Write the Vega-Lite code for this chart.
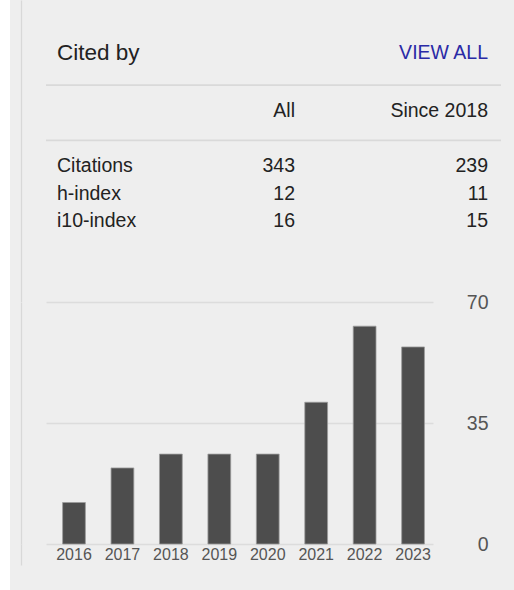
{
  "$schema": "https://vega.github.io/schema/vega-lite/v6.json",
  "background": "#eeeeee",
  "padding": {"left": 0, "top": 0, "right": 13, "bottom": 0},
  "autosize": {"type": "pad"},
  "bounds": "flush",
  "spacing": 36,
  "config": {
    "font": "Liberation Sans",
    "view": {"stroke": null},
    "concat": {"spacing": 0}
  },
  "hconcat": [
    {
      "width": 10,
      "height": 590,
      "view": {"fill": "#ffffff", "stroke": null},
      "data": {"values": []},
      "mark": "point"
    },
    {
      "vconcat": [
        {
          "width": 455,
          "height": 301.5,
          "data": {
            "values": [
              {"row": "hdr", "col": "label", "text": "Cited by"},
              {"row": "hdr", "col": "since", "text": "VIEW ALL"},
              {"row": "cols", "col": "all", "text": "All"},
              {"row": "cols", "col": "since", "text": "Since 2018"},
              {"row": "Citations", "col": "label", "text": "Citations"},
              {"row": "Citations", "col": "all", "text": "343"},
              {"row": "Citations", "col": "since", "text": "239"},
              {"row": "h-index", "col": "label", "text": "h-index"},
              {"row": "h-index", "col": "all", "text": "12"},
              {"row": "h-index", "col": "since", "text": "11"},
              {"row": "i10-index", "col": "label", "text": "i10-index"},
              {"row": "i10-index", "col": "all", "text": "16"},
              {"row": "i10-index", "col": "since", "text": "15"}
            ]
          },
          "encoding": {
            "y": {
              "field": "row",
              "type": "nominal",
              "scale": {
                "type": "point",
                "domain": ["top1", "top2", "hdr", "sep1", "cols", "sep2", "Citations", "h-index", "i10-index", "gap1", "gap2"],
                "padding": 0.456,
                "align": 0.0095
              },
              "axis": {
                "labels": false,
                "ticks": false,
                "title": null,
                "grid": false,
                "domain": true,
                "domainColor": "#d8d8d8",
                "domainWidth": 1.2,
                "offset": 25
              }
            }
          },
          "layer": [
            {
              "data": {"values": [{"row": "sep1"}, {"row": "sep2"}]},
              "mark": {"type": "rule", "color": "#d9d9d9", "strokeWidth": 1.8, "yOffset": 2},
              "encoding": {}
            },
            {
              "transform": [{"filter": "datum.col === 'label' && datum.row !== 'hdr'"}],
              "mark": {"type": "text", "align": "left", "baseline": "middle", "fontSize": 19.5, "color": "#222222"},
              "encoding": {
                "x": {"field": "col", "type": "nominal", "scale": {"type": "point", "domain": ["label", "all", "since"], "padding": 0.0557, "align": 0.4583}, "axis": null},
                "text": {"field": "text"}
              }
            },
            {
              "transform": [{"filter": "datum.col === 'label' && datum.row === 'hdr'"}],
              "mark": {"type": "text", "align": "left", "baseline": "middle", "fontSize": 22.5, "color": "#222222", "dy": -2},
              "encoding": {
                "x": {"field": "col", "type": "nominal", "axis": null},
                "text": {"field": "text"}
              }
            },
            {
              "transform": [{"filter": "datum.col === 'all'"}],
              "mark": {"type": "text", "align": "right", "baseline": "middle", "fontSize": 19.5, "color": "#222222", "dx": 22.5},
              "encoding": {
                "x": {"field": "col", "type": "nominal", "axis": null},
                "text": {"field": "text"}
              }
            },
            {
              "transform": [{"filter": "datum.col === 'since' && datum.row !== 'hdr'"}],
              "mark": {"type": "text", "align": "right", "baseline": "middle", "fontSize": 19.5, "color": "#222222"},
              "encoding": {
                "x": {"field": "col", "type": "nominal", "axis": null},
                "text": {"field": "text"}
              }
            },
            {
              "transform": [{"filter": "datum.col === 'since' && datum.row === 'hdr'"}],
              "mark": {"type": "text", "align": "right", "baseline": "middle", "fontSize": 19.5, "color": "#2a2aa6", "dy": -2},
              "encoding": {
                "x": {"field": "col", "type": "nominal", "axis": null},
                "text": {"field": "text"}
              }
            }
          ]
        },
        {
          "width": 387,
          "height": 242,
          "data": {
            "values": [
              {"year": "2016", "citations": 12},
              {"year": "2017", "citations": 22},
              {"year": "2018", "citations": 26},
              {"year": "2019", "citations": 26},
              {"year": "2020", "citations": 26},
              {"year": "2021", "citations": 41},
              {"year": "2022", "citations": 63},
              {"year": "2023", "citations": 57}
            ]
          },
          "layer": [
            {
              "mark": {"type": "bar", "color": "#4d4d4d", "stroke": "#9a9a9a", "strokeWidth": 0.8},
              "encoding": {
                "x": {
                  "field": "year",
                  "type": "ordinal",
                  "scale": {"paddingInner": 0.53, "paddingOuter": 0.26, "align": 0.66},
                  "axis": {
                    "title": null,
                    "labelAngle": 0,
                    "ticks": false,
                    "domain": false,
                    "grid": false,
                    "labelFontSize": 16,
                    "labelColor": "#555555",
                    "labelPadding": 2
                  }
                },
                "y": {
                  "field": "citations",
                  "type": "quantitative",
                  "scale": {"domain": [0, 70]},
                  "axis": {
                    "orient": "right",
                    "values": [0, 35, 70],
                    "title": null,
                    "ticks": false,
                    "domain": false,
                    "labelFontSize": 19.5,
                    "labelColor": "#555555",
                    "labelAlign": "right",
                    "labelPadding": 55,
                    "grid": true,
                    "gridColor": "#dcdcdc",
                    "gridWidth": 1.5
                  }
                }
              }
            },
            {
              "mark": {"type": "bar", "opacity": 0},
              "encoding": {
                "x": {"field": "year", "type": "ordinal"},
                "y": {
                  "field": "citations",
                  "type": "quantitative",
                  "axis": {
                    "orient": "left",
                    "labels": false,
                    "ticks": false,
                    "title": null,
                    "grid": false,
                    "domain": true,
                    "domainColor": "#d8d8d8",
                    "domainWidth": 1.2,
                    "offset": 25
                  }
                }
              }
            }
          ],
          "resolve": {"axis": {"y": "independent"}}
        },
        {
          "width": 387,
          "height": 21,
          "data": {"values": [{"v": 0}, {"v": 1}]},
          "mark": {"type": "point", "opacity": 0},
          "encoding": {
            "y": {
              "field": "v",
              "type": "quantitative",
              "axis": {
                "labels": false,
                "ticks": false,
                "title": null,
                "grid": false,
                "domain": true,
                "domainColor": "#d8d8d8",
                "domainWidth": 1.2,
                "offset": 25
              }
            }
          }
        }
      ],
      "spacing": 0,
      "bounds": "flush"
    }
  ]
}
